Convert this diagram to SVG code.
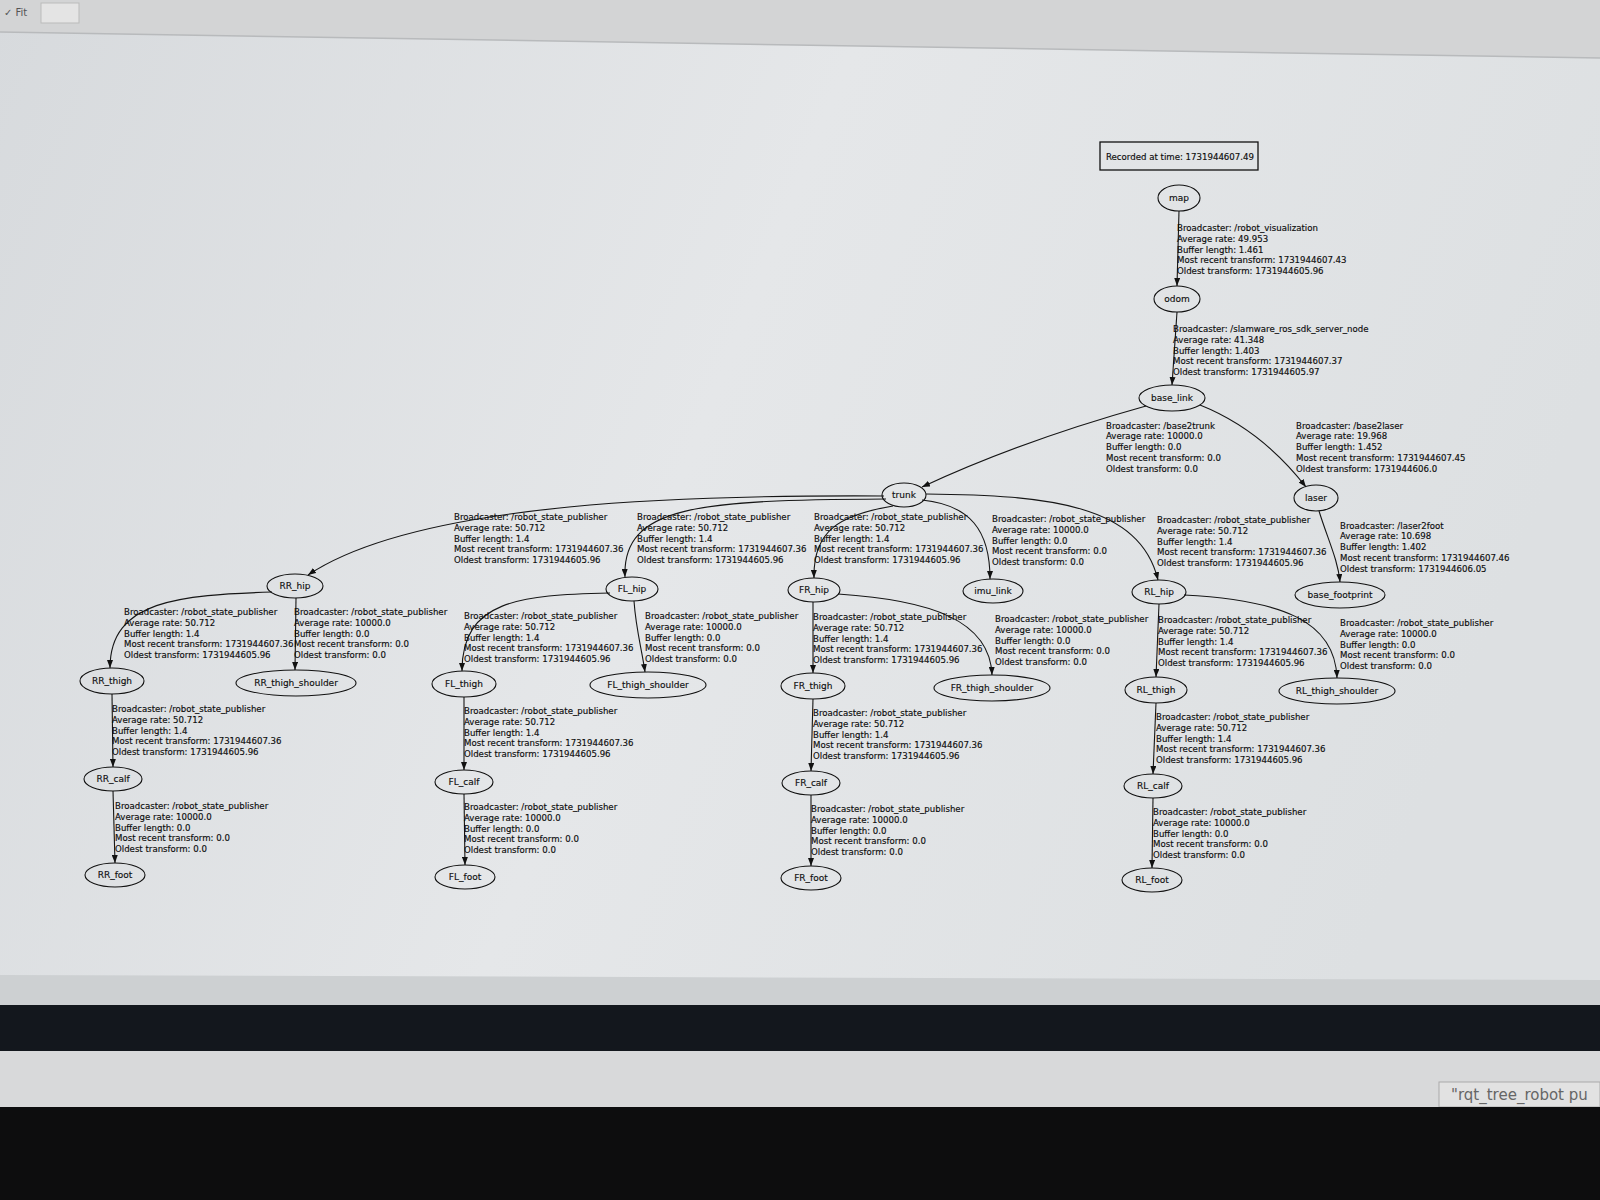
<svg xmlns="http://www.w3.org/2000/svg" width="1600" height="1200" viewBox="0 0 1600 1200">
<defs>
<linearGradient id="bg" x1="0" y1="0" x2="1" y2="0.3">
<stop offset="0" stop-color="#d7dadd"/>
<stop offset="0.5" stop-color="#e5e7e9"/>
<stop offset="1" stop-color="#dde0e2"/>
</linearGradient>
<marker id="arr" markerWidth="8" markerHeight="6" refX="8" refY="3" orient="auto" markerUnits="userSpaceOnUse">
<path d="M0,0 L8,3 L0,6 Z" fill="#111"/>
</marker>
<style>
.n ellipse{fill:none;stroke:#111;stroke-width:1.1}
.n text{font-family:"DejaVu Sans",sans-serif;font-size:9px;fill:#111;text-anchor:middle;stroke:#111;stroke-width:0.15}
.e path{fill:none;stroke:#161616;stroke-width:1.1;marker-end:url(#arr)}
.lb{font-family:"DejaVu Sans",sans-serif;font-size:8.6px;fill:#0c0c0c;stroke:#0c0c0c;stroke-width:0.15}
</style>
</defs>
<rect x="0" y="0" width="1600" height="1200" fill="url(#bg)"/>
<polygon points="0,0 1600,0 1600,58 0,32" fill="#d3d4d5"/>
<line x1="0" y1="32" x2="1600" y2="58" stroke="#b8babc" stroke-width="1.5"/>
<text x="4" y="16" font-family="DejaVu Sans,sans-serif" font-size="10" fill="#555">✓ Fit</text>
<rect x="41" y="3" width="38" height="20" fill="#e4e4e4" stroke="#bbb"/>
<polygon points="0,975 1600,980 1600,1005 0,1005" fill="#cdd0d2"/>
<rect x="0" y="1005" width="1600" height="46" fill="#13171d"/>
<rect x="0" y="1051" width="1600" height="56" fill="#d8d9da"/>
<rect x="1439" y="1082" width="161" height="25" fill="#e2e2e2" stroke="#aaa"/>
<text x="1451" y="1100" font-family="DejaVu Sans,sans-serif" font-size="15" fill="#666">"rqt_tree_robot pu</text>
<rect x="0" y="1107" width="1600" height="93" fill="#0d0d0e"/>

<g id="recorded">
<rect x="1100" y="142" width="158" height="28" fill="none" stroke="#111" stroke-width="1.3"/>
<text x="1106" y="160" class="lb">Recorded at time: 1731944607.49</text>
</g>

<g id="connectors" class="e">
<path d="M1179,211 L1177,286"/>
<path d="M1177,312 L1172,385"/>
<path d="M1146,406 C1060,430 980,460 922,487"/>
<path d="M1200,405 C1250,425 1285,460 1306,487"/>
<path d="M1319,511 C1328,540 1338,560 1340,582"/>
<path d="M884,496 C700,495 420,500 308,575"/>
<path d="M886,499 C700,500 622,505 625,577"/>
<path d="M893,506 C840,515 813,530 814,578"/>
<path d="M922,500 C970,505 990,530 990,579"/>
<path d="M926,494 C1050,495 1140,505 1158,580"/>
<path d="M272,592 C180,595 110,600 110,668"/>
<path d="M296,598 L295,670"/>
<path d="M610,593 C520,595 462,600 462,671"/>
<path d="M634,601 C636,630 642,650 645,672"/>
<path d="M813,602 L813,673"/>
<path d="M838,594 C930,600 990,620 992,675"/>
<path d="M1159,604 L1156,677"/>
<path d="M1184,595 C1280,600 1335,620 1337,678"/>
<path d="M112,694 L113,767"/>
<path d="M113,791 L115,863"/>
<path d="M464,697 L464,770"/>
<path d="M464,794 L465,865"/>
<path d="M813,699 L811,771"/>
<path d="M811,795 L811,866"/>
<path d="M1156,703 L1153,774"/>
<path d="M1153,798 L1152,868"/>
</g>

<g id="edge-labels" class="lb">
<text x="1177" y="231"><tspan x="1177">Broadcaster: /robot_visualization</tspan><tspan x="1177" dy="10.8">Average rate: 49.953</tspan><tspan x="1177" dy="10.8">Buffer length: 1.461</tspan><tspan x="1177" dy="10.8">Most recent transform: 1731944607.43</tspan><tspan x="1177" dy="10.8">Oldest transform: 1731944605.96</tspan></text>
<text x="1173" y="332"><tspan x="1173">Broadcaster: /slamware_ros_sdk_server_node</tspan><tspan x="1173" dy="10.8">Average rate: 41.348</tspan><tspan x="1173" dy="10.8">Buffer length: 1.403</tspan><tspan x="1173" dy="10.8">Most recent transform: 1731944607.37</tspan><tspan x="1173" dy="10.8">Oldest transform: 1731944605.97</tspan></text>
<text x="1106" y="428.5"><tspan x="1106">Broadcaster: /base2trunk</tspan><tspan x="1106" dy="10.8">Average rate: 10000.0</tspan><tspan x="1106" dy="10.8">Buffer length: 0.0</tspan><tspan x="1106" dy="10.8">Most recent transform: 0.0</tspan><tspan x="1106" dy="10.8">Oldest transform: 0.0</tspan></text>
<text x="1296" y="428.5"><tspan x="1296">Broadcaster: /base2laser</tspan><tspan x="1296" dy="10.8">Average rate: 19.968</tspan><tspan x="1296" dy="10.8">Buffer length: 1.452</tspan><tspan x="1296" dy="10.8">Most recent transform: 1731944607.45</tspan><tspan x="1296" dy="10.8">Oldest transform: 1731944606.0</tspan></text>
<text x="1340" y="528.5"><tspan x="1340">Broadcaster: /laser2foot</tspan><tspan x="1340" dy="10.8">Average rate: 10.698</tspan><tspan x="1340" dy="10.8">Buffer length: 1.402</tspan><tspan x="1340" dy="10.8">Most recent transform: 1731944607.46</tspan><tspan x="1340" dy="10.8">Oldest transform: 1731944606.05</tspan></text>

<text x="454" y="520"><tspan x="454">Broadcaster: /robot_state_publisher</tspan><tspan x="454" dy="10.8">Average rate: 50.712</tspan><tspan x="454" dy="10.8">Buffer length: 1.4</tspan><tspan x="454" dy="10.8">Most recent transform: 1731944607.36</tspan><tspan x="454" dy="10.8">Oldest transform: 1731944605.96</tspan></text>
<text x="637" y="520"><tspan x="637">Broadcaster: /robot_state_publisher</tspan><tspan x="637" dy="10.8">Average rate: 50.712</tspan><tspan x="637" dy="10.8">Buffer length: 1.4</tspan><tspan x="637" dy="10.8">Most recent transform: 1731944607.36</tspan><tspan x="637" dy="10.8">Oldest transform: 1731944605.96</tspan></text>
<text x="814" y="520"><tspan x="814">Broadcaster: /robot_state_publisher</tspan><tspan x="814" dy="10.8">Average rate: 50.712</tspan><tspan x="814" dy="10.8">Buffer length: 1.4</tspan><tspan x="814" dy="10.8">Most recent transform: 1731944607.36</tspan><tspan x="814" dy="10.8">Oldest transform: 1731944605.96</tspan></text>
<text x="992" y="522"><tspan x="992">Broadcaster: /robot_state_publisher</tspan><tspan x="992" dy="10.8">Average rate: 10000.0</tspan><tspan x="992" dy="10.8">Buffer length: 0.0</tspan><tspan x="992" dy="10.8">Most recent transform: 0.0</tspan><tspan x="992" dy="10.8">Oldest transform: 0.0</tspan></text>
<text x="1157" y="523"><tspan x="1157">Broadcaster: /robot_state_publisher</tspan><tspan x="1157" dy="10.8">Average rate: 50.712</tspan><tspan x="1157" dy="10.8">Buffer length: 1.4</tspan><tspan x="1157" dy="10.8">Most recent transform: 1731944607.36</tspan><tspan x="1157" dy="10.8">Oldest transform: 1731944605.96</tspan></text>

<text x="124" y="615"><tspan x="124">Broadcaster: /robot_state_publisher</tspan><tspan x="124" dy="10.8">Average rate: 50.712</tspan><tspan x="124" dy="10.8">Buffer length: 1.4</tspan><tspan x="124" dy="10.8">Most recent transform: 1731944607.36</tspan><tspan x="124" dy="10.8">Oldest transform: 1731944605.96</tspan></text>
<text x="294" y="615"><tspan x="294">Broadcaster: /robot_state_publisher</tspan><tspan x="294" dy="10.8">Average rate: 10000.0</tspan><tspan x="294" dy="10.8">Buffer length: 0.0</tspan><tspan x="294" dy="10.8">Most recent transform: 0.0</tspan><tspan x="294" dy="10.8">Oldest transform: 0.0</tspan></text>
<text x="464" y="619"><tspan x="464">Broadcaster: /robot_state_publisher</tspan><tspan x="464" dy="10.8">Average rate: 50.712</tspan><tspan x="464" dy="10.8">Buffer length: 1.4</tspan><tspan x="464" dy="10.8">Most recent transform: 1731944607.36</tspan><tspan x="464" dy="10.8">Oldest transform: 1731944605.96</tspan></text>
<text x="645" y="619"><tspan x="645">Broadcaster: /robot_state_publisher</tspan><tspan x="645" dy="10.8">Average rate: 10000.0</tspan><tspan x="645" dy="10.8">Buffer length: 0.0</tspan><tspan x="645" dy="10.8">Most recent transform: 0.0</tspan><tspan x="645" dy="10.8">Oldest transform: 0.0</tspan></text>
<text x="813" y="620"><tspan x="813">Broadcaster: /robot_state_publisher</tspan><tspan x="813" dy="10.8">Average rate: 50.712</tspan><tspan x="813" dy="10.8">Buffer length: 1.4</tspan><tspan x="813" dy="10.8">Most recent transform: 1731944607.36</tspan><tspan x="813" dy="10.8">Oldest transform: 1731944605.96</tspan></text>
<text x="995" y="622"><tspan x="995">Broadcaster: /robot_state_publisher</tspan><tspan x="995" dy="10.8">Average rate: 10000.0</tspan><tspan x="995" dy="10.8">Buffer length: 0.0</tspan><tspan x="995" dy="10.8">Most recent transform: 0.0</tspan><tspan x="995" dy="10.8">Oldest transform: 0.0</tspan></text>
<text x="1158" y="623"><tspan x="1158">Broadcaster: /robot_state_publisher</tspan><tspan x="1158" dy="10.8">Average rate: 50.712</tspan><tspan x="1158" dy="10.8">Buffer length: 1.4</tspan><tspan x="1158" dy="10.8">Most recent transform: 1731944607.36</tspan><tspan x="1158" dy="10.8">Oldest transform: 1731944605.96</tspan></text>
<text x="1340" y="626"><tspan x="1340">Broadcaster: /robot_state_publisher</tspan><tspan x="1340" dy="10.8">Average rate: 10000.0</tspan><tspan x="1340" dy="10.8">Buffer length: 0.0</tspan><tspan x="1340" dy="10.8">Most recent transform: 0.0</tspan><tspan x="1340" dy="10.8">Oldest transform: 0.0</tspan></text>

<text x="112" y="712"><tspan x="112">Broadcaster: /robot_state_publisher</tspan><tspan x="112" dy="10.8">Average rate: 50.712</tspan><tspan x="112" dy="10.8">Buffer length: 1.4</tspan><tspan x="112" dy="10.8">Most recent transform: 1731944607.36</tspan><tspan x="112" dy="10.8">Oldest transform: 1731944605.96</tspan></text>
<text x="464" y="714"><tspan x="464">Broadcaster: /robot_state_publisher</tspan><tspan x="464" dy="10.8">Average rate: 50.712</tspan><tspan x="464" dy="10.8">Buffer length: 1.4</tspan><tspan x="464" dy="10.8">Most recent transform: 1731944607.36</tspan><tspan x="464" dy="10.8">Oldest transform: 1731944605.96</tspan></text>
<text x="813" y="716"><tspan x="813">Broadcaster: /robot_state_publisher</tspan><tspan x="813" dy="10.8">Average rate: 50.712</tspan><tspan x="813" dy="10.8">Buffer length: 1.4</tspan><tspan x="813" dy="10.8">Most recent transform: 1731944607.36</tspan><tspan x="813" dy="10.8">Oldest transform: 1731944605.96</tspan></text>
<text x="1156" y="720"><tspan x="1156">Broadcaster: /robot_state_publisher</tspan><tspan x="1156" dy="10.8">Average rate: 50.712</tspan><tspan x="1156" dy="10.8">Buffer length: 1.4</tspan><tspan x="1156" dy="10.8">Most recent transform: 1731944607.36</tspan><tspan x="1156" dy="10.8">Oldest transform: 1731944605.96</tspan></text>

<text x="115" y="809"><tspan x="115">Broadcaster: /robot_state_publisher</tspan><tspan x="115" dy="10.8">Average rate: 10000.0</tspan><tspan x="115" dy="10.8">Buffer length: 0.0</tspan><tspan x="115" dy="10.8">Most recent transform: 0.0</tspan><tspan x="115" dy="10.8">Oldest transform: 0.0</tspan></text>
<text x="464" y="810"><tspan x="464">Broadcaster: /robot_state_publisher</tspan><tspan x="464" dy="10.8">Average rate: 10000.0</tspan><tspan x="464" dy="10.8">Buffer length: 0.0</tspan><tspan x="464" dy="10.8">Most recent transform: 0.0</tspan><tspan x="464" dy="10.8">Oldest transform: 0.0</tspan></text>
<text x="811" y="812"><tspan x="811">Broadcaster: /robot_state_publisher</tspan><tspan x="811" dy="10.8">Average rate: 10000.0</tspan><tspan x="811" dy="10.8">Buffer length: 0.0</tspan><tspan x="811" dy="10.8">Most recent transform: 0.0</tspan><tspan x="811" dy="10.8">Oldest transform: 0.0</tspan></text>
<text x="1153" y="815"><tspan x="1153">Broadcaster: /robot_state_publisher</tspan><tspan x="1153" dy="10.8">Average rate: 10000.0</tspan><tspan x="1153" dy="10.8">Buffer length: 0.0</tspan><tspan x="1153" dy="10.8">Most recent transform: 0.0</tspan><tspan x="1153" dy="10.8">Oldest transform: 0.0</tspan></text>
</g>

<g id="map" class="n"><ellipse cx="1179" cy="198" rx="21" ry="13"/><text x="1179" y="201">map</text></g>
<g id="odom" class="n"><ellipse cx="1177" cy="299" rx="23" ry="13"/><text x="1177" y="302">odom</text></g>
<g id="base_link" class="n"><ellipse cx="1172" cy="398" rx="33" ry="13"/><text x="1172" y="401">base_link</text></g>
<g id="trunk" class="n"><ellipse cx="904" cy="495" rx="22" ry="12"/><text x="904" y="498">trunk</text></g>
<g id="laser" class="n"><ellipse cx="1316" cy="498" rx="22" ry="13"/><text x="1316" y="501">laser</text></g>
<g id="base_footprint" class="n"><ellipse cx="1340" cy="595" rx="45" ry="13"/><text x="1340" y="598">base_footprint</text></g>
<g id="RR_hip" class="n"><ellipse cx="295" cy="586" rx="28" ry="12"/><text x="295" y="589">RR_hip</text></g>
<g id="FL_hip" class="n"><ellipse cx="632" cy="589" rx="26" ry="12"/><text x="632" y="592">FL_hip</text></g>
<g id="FR_hip" class="n"><ellipse cx="814" cy="590" rx="26" ry="12"/><text x="814" y="593">FR_hip</text></g>
<g id="imu_link" class="n"><ellipse cx="993" cy="591" rx="30" ry="12"/><text x="993" y="594">imu_link</text></g>
<g id="RL_hip" class="n"><ellipse cx="1159" cy="592" rx="27" ry="12"/><text x="1159" y="595">RL_hip</text></g>
<g id="RR_thigh" class="n"><ellipse cx="112" cy="681" rx="32" ry="13"/><text x="112" y="684">RR_thigh</text></g>
<g id="RR_thigh_shoulder" class="n"><ellipse cx="296" cy="683" rx="60" ry="13"/><text x="296" y="686">RR_thigh_shoulder</text></g>
<g id="FL_thigh" class="n"><ellipse cx="464" cy="684" rx="32" ry="13"/><text x="464" y="687">FL_thigh</text></g>
<g id="FL_thigh_shoulder" class="n"><ellipse cx="648" cy="685" rx="58" ry="13"/><text x="648" y="688">FL_thigh_shoulder</text></g>
<g id="FR_thigh" class="n"><ellipse cx="813" cy="686" rx="32" ry="13"/><text x="813" y="689">FR_thigh</text></g>
<g id="FR_thigh_shoulder" class="n"><ellipse cx="992" cy="688" rx="58" ry="13"/><text x="992" y="691">FR_thigh_shoulder</text></g>
<g id="RL_thigh" class="n"><ellipse cx="1156" cy="690" rx="31" ry="13"/><text x="1156" y="693">RL_thigh</text></g>
<g id="RL_thigh_shoulder" class="n"><ellipse cx="1337" cy="691" rx="58" ry="13"/><text x="1337" y="694">RL_thigh_shoulder</text></g>
<g id="RR_calf" class="n"><ellipse cx="113" cy="779" rx="29" ry="12"/><text x="113" y="782">RR_calf</text></g>
<g id="FL_calf" class="n"><ellipse cx="464" cy="782" rx="29" ry="12"/><text x="464" y="785">FL_calf</text></g>
<g id="FR_calf" class="n"><ellipse cx="811" cy="783" rx="29" ry="12"/><text x="811" y="786">FR_calf</text></g>
<g id="RL_calf" class="n"><ellipse cx="1153" cy="786" rx="29" ry="12"/><text x="1153" y="789">RL_calf</text></g>
<g id="RR_foot" class="n"><ellipse cx="115" cy="875" rx="30" ry="12"/><text x="115" y="878">RR_foot</text></g>
<g id="FL_foot" class="n"><ellipse cx="465" cy="877" rx="30" ry="12"/><text x="465" y="880">FL_foot</text></g>
<g id="FR_foot" class="n"><ellipse cx="811" cy="878" rx="30" ry="12"/><text x="811" y="881">FR_foot</text></g>
<g id="RL_foot" class="n"><ellipse cx="1152" cy="880" rx="30" ry="12"/><text x="1152" y="883">RL_foot</text></g>
</svg>
